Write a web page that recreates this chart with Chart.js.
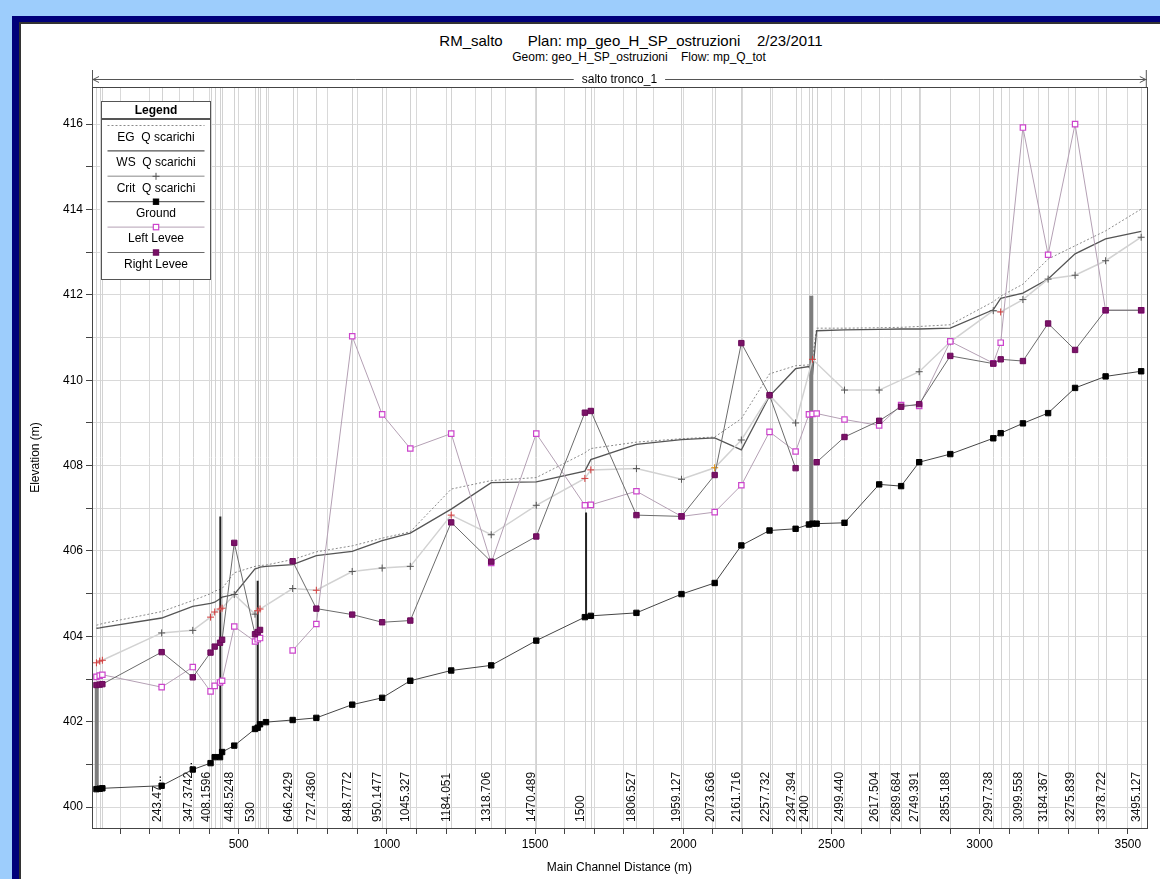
<!DOCTYPE html>
<html>
<head>
<meta charset="utf-8">
<script src="https://cdn.jsdelivr.net/npm/chart.js@4.4.1/dist/chart.umd.min.js"></script>
<style>
  body { margin:0; width:1160px; height:879px; background:#9dcdfc; position:relative; overflow:hidden;
         font-family:"Liberation Sans", Arial, sans-serif; }
  #navy { position:absolute; left:12px; top:16px; width:1148px; height:863px; background:#00007a; }
  #sheet { position:absolute; left:19px; top:22px; width:1141px; height:855px; background:#fff;
           border-left:2px solid #333; border-top:2px solid #333; border-bottom:1px solid #999; }
  #title { position:absolute; left:0; top:32px; width:1262px; text-align:center; font-size:15px;
           line-height:17px; white-space:pre; color:#000; }
  #subtitle { position:absolute; left:0; top:50px; width:1278px; text-align:center; font-size:12px;
              line-height:14px; white-space:pre; color:#000; }
  #chart { position:absolute; left:22px; top:24px; }
</style>
</head>
<body>
<div id="navy"></div>
<div id="sheet"></div>
<div id="title">RM_salto      Plan: mp_geo_H_SP_ostruzioni    2/23/2011</div>
<div id="subtitle">Geom: geo_H_SP_ostruzioni    Flow: mp_Q_tot</div>
<canvas id="chart" width="1130" height="851"></canvas>
<script>
// main channel distance of each cross section (m)
const distances = [20, 31, 40, 240, 345, 405, 419, 437, 444, 485, 555, 564, 572, 592, 682, 762, 883, 984, 1079, 1217,
  1352, 1504, 1668, 1688, 1842, 1994, 2106, 2196, 2291, 2379, 2424, 2436, 2450, 2544, 2661, 2735, 2796, 2901, 3046, 3071,
  3146, 3231, 3322, 3425, 3545];

// river station labels ('' = not labelled)
const stationNames = ['', '', '', '243.47...', '347.3742...', '408.1596', '', '', '', '448.5248', '530', '', '', '',
  '646.2429', '727.4360', '848.7772', '950.1477', '1045.327', '1184.051', '1318.706', '1470.489', '1500', '',
  '1806.527', '1959.127', '2073.636', '2161.716', '2257.732', '2347.394', '2400', '', '', '2499.440', '2617.504',
  '2689.684', '2749.391', '2855.188', '2997.738', '', '3099.558', '3184.367', '3275.839', '3378.722', '3495.127'];

const egElev = [404.26, 404.28, 404.3, 404.58, 404.84, 405.0, 405.06, 405.1, 405.12, 405.49, 405.64, 405.65, 405.66,
  405.67, 405.8, 405.98, 406.12, 406.3, 406.45, 407.45, 407.65, 407.72, 408.3, 408.4, 408.55, 408.63, 408.67, 409.1,
  410.15, 410.34, 410.36, 410.5, 411.22, 411.22, 411.23, 411.24, 411.26, 411.3, 411.84, 411.97, 412.25, 412.84,
  413.15, 413.5, 414.01];

const wsElev = [404.19, 404.2, 404.21, 404.43, 404.7, 404.77, 404.8, 404.88, 404.92, 404.98, 405.58, 405.6, 405.62,
  405.64, 405.68, 405.89, 405.99, 406.24, 406.42, 406.98, 407.6, 407.62, 407.87, 408.14, 408.5, 408.61, 408.65, 408.37,
  409.63, 410.27, 410.32, 410.14, 411.16, 411.18, 411.19, 411.2, 411.2, 411.22, 411.65, 411.92, 412.04, 412.37,
  412.96, 413.31, 413.49];

const critElev = [403.38, 403.42, 403.44, 404.08, 404.14, 404.45, 404.57, 404.64, 404.66, 404.98, 404.52, 404.6,
  404.64, null, 405.12, 405.08, 405.52, 405.6, 405.64, 406.84, 406.38, 407.07, 407.7, 407.9, 407.93, 407.68, 407.95,
  408.6, 409.65, 409.0, null, 410.49, null, 409.77, 409.77, null, 410.2, 410.9, 411.63, 411.6, 411.89, 412.37, 412.46,
  412.8, 413.35];

const groundElev = [400.42, 400.43, 400.44, 400.5, 400.88, 401.03, 401.17, 401.17, 401.29, 401.44, 401.83, 401.86,
  401.94, 401.99, 402.04, 402.09, 402.4, 402.56, 402.96, 403.2, 403.32, 403.9, 404.45, 404.48, 404.55, 404.99, 405.25,
  406.13, 406.48, 406.52, 406.62, 406.64, 406.64, 406.66, 407.56, 407.52, 408.08, 408.27, 408.64, 408.76, 408.99,
  409.23, 409.82, 410.09, 410.21];

const leftLevee = [403.05, 403.08, 403.1, 402.81, 403.28, 402.71, 402.84, 402.92, 402.96, 404.23, 403.88, 403.93,
  403.96, null, 403.67, 404.29, 411.03, 409.2, 408.4, 408.75, 405.72, 408.75, 407.07, 407.08, 407.4, 406.81, 406.91,
  407.54, 408.79, 408.33, 409.2, 409.21, 409.22, 409.08, 408.94, 409.42, 409.4, 410.91, 410.4, 410.88, 415.92, 412.94,
  416.0, 411.64, 411.64];

const rightLevee = [402.86, 402.87, 402.88, 403.63, 403.04, 403.62, 403.76, 403.85, 403.92, 406.19, 404.05, 404.1,
  404.15, null, 405.76, 404.65, 404.51, 404.33, 404.37, 406.67, 405.75, 406.34, 409.24, 409.28, 406.84, 406.81, 407.78,
  410.87, 409.65, 407.94, null, null, 408.08, 408.67, 409.05, 409.38, 409.44, 410.57, 410.39, 410.49, 410.45, 411.33,
  410.71, 411.64, 411.64];

// inline structures
const structStation = [21, 438, 564, 1672, 2432];
const structTop = [402.88, 406.81, 405.3, 406.9, 411.98];
const structBottom = [400.42, 401.25, 401.86, 404.46, 406.63];

// axis ticks
const xTickStep = 100, xTickFirst = 100, xTickLast = 3500, xLabelEvery = 500;
const yTickFirst = 400, yTickLast = 416, yLabelEvery = 2;

const family = '"Liberation Sans", Arial, sans-serif';
const wideStructures = [0, 4];
const critRed = [0, 1, 2, 5, 6, 7, 8, 11, 12, 15, 19, 22, 23, 31, 39];
const critOrange = [26];

const pts = arr => distances.map((x, i) => ({ x: x, y: arr[i] }));

const ground = { label: 'Ground', data: pts(groundElev), borderColor: '#444', borderWidth: 1,
  pointStyle: 'rect', pointRadius: 3.8, pointBackgroundColor: '#000', pointBorderColor: '#000', pointBorderWidth: 1 };
const rLev = { label: 'Right Levee', data: pts(rightLevee), borderColor: '#6b6b6b', borderWidth: 1,
  pointStyle: 'rect', pointRadius: 3.8, pointBackgroundColor: '#7a1267', pointBorderColor: '#6a0a5a', pointBorderWidth: 1 };
const lLev = { label: 'Left Levee', data: pts(leftLevee), borderColor: '#b4a0b4', borderWidth: 1,
  pointStyle: 'rect', pointRadius: 3.8, pointBackgroundColor: '#fff', pointBorderColor: '#cc44cc', pointBorderWidth: 1.2 };
const crit = { label: 'Crit  Q scarichi', data: pts(critElev), spanGaps: true, borderColor: '#d2d2d2', borderWidth: 1.5,
  pointStyle: 'cross', pointRadius: 3.5, pointBorderWidth: 1,
  pointBorderColor: c => critRed.includes(c.dataIndex) ? '#d23c3c' : (critOrange.includes(c.dataIndex) ? '#e08a00' : '#555') };
const ws = { label: 'WS  Q scarichi', data: pts(wsElev), borderColor: '#555', borderWidth: 1.3, pointRadius: 0 };
const eg = { label: 'EG  Q scarichi', data: pts(egElev), borderColor: '#8a8a8a', borderWidth: 1, borderDash: [2, 2], pointRadius: 0 };

const structSets = structStation.map((s, i) => ({
  label: 'structure', data: [{ x: s, y: structBottom[i] }, { x: s, y: structTop[i] }],
  borderColor: wideStructures.includes(i) ? '#7d7d7d' : '#222',
  borderWidth: wideStructures.includes(i) ? 4 : 2, pointRadius: 0
}));

const legendItems = [eg, ws, crit, ground, lLev, rLev];

function drawMarker(ctx, ds, x, y) {
  if (!ds.pointRadius) return;
  const r = ds.pointRadius;
  ctx.save();
  ctx.lineWidth = ds.pointBorderWidth || 1;
  if (ds.pointStyle === 'rect') {
    const s = Math.SQRT1_2 * r;
    ctx.fillStyle = ds.pointBackgroundColor;
    ctx.strokeStyle = ds.pointBorderColor;
    ctx.fillRect(x - s, y - s, 2 * s, 2 * s);
    ctx.strokeRect(x - s, y - s, 2 * s, 2 * s);
  } else {
    ctx.strokeStyle = '#555';
    ctx.beginPath();
    ctx.moveTo(x - r, y); ctx.lineTo(x + r, y);
    ctx.moveTo(x, y - r); ctx.lineTo(x, y + r);
    ctx.stroke();
  }
  ctx.restore();
}

const decor = {
  id: 'decor',
  beforeDatasetsDraw(chart) {
    const ctx = chart.ctx, ca = chart.chartArea, xs = chart.scales.x;
    ctx.save();
    ctx.strokeStyle = '#d2d2d2';
    ctx.lineWidth = 1;
    distances.forEach(d => {
      const px = Math.round(xs.getPixelForValue(d)) + 0.5;
      ctx.beginPath(); ctx.moveTo(px, ca.top); ctx.lineTo(px, ca.bottom); ctx.stroke();
    });
    ctx.fillStyle = '#111';
    ctx.font = '12px ' + family;
    ctx.textAlign = 'left';
    ctx.textBaseline = 'alphabetic';
    distances.forEach((d, i) => {
      if (!stationNames[i]) return;
      const px = xs.getPixelForValue(d);
      ctx.save();
      ctx.translate(px - 1, ca.bottom - 6);
      ctx.rotate(-Math.PI / 2);
      ctx.fillText(stationNames[i], 0, 0);
      ctx.restore();
    });
    ctx.restore();
  },
  afterDraw(chart) {
    const ctx = chart.ctx, ca = chart.chartArea;
    ctx.save();
    // plot frame
    ctx.strokeStyle = '#444';
    ctx.lineWidth = 1;
    ctx.strokeRect(Math.round(ca.left) + 0.5, Math.round(ca.top) + 0.5,
      Math.round(ca.right - ca.left), Math.round(ca.bottom - ca.top));

    // reach arrow
    const ya = Math.round(ca.top - 8) + 0.5;
    ctx.strokeStyle = '#555';
    ctx.beginPath();
    ctx.moveTo(ca.left, ya); ctx.lineTo(ca.right, ya);
    ctx.moveTo(ca.left + 0.5, ca.top - 17); ctx.lineTo(ca.left + 0.5, ca.top);
    ctx.moveTo(ca.right - 0.5, ca.top - 17); ctx.lineTo(ca.right - 0.5, ca.top);
    ctx.moveTo(ca.left + 7, ya - 3); ctx.lineTo(ca.left + 1, ya); ctx.lineTo(ca.left + 7, ya + 3);
    ctx.moveTo(ca.right - 7, ya - 3); ctx.lineTo(ca.right - 1, ya); ctx.lineTo(ca.right - 7, ya + 3);
    ctx.stroke();
    ctx.font = '12px ' + family;
    const label = 'salto tronco_1';
    const cx = (ca.left + ca.right) / 2;
    const tw = ctx.measureText(label).width;
    ctx.fillStyle = '#fff';
    ctx.fillRect(cx - tw / 2 - 8, ya - 7, tw + 16, 14);
    ctx.fillStyle = '#000';
    ctx.textAlign = 'center';
    ctx.textBaseline = 'middle';
    ctx.fillText(label, cx, ya);

    // legend
    const lx = Math.round(ca.left + 9) + 0.5, ly = Math.round(ca.top + 14) + 0.5, lw = 109, lh = 178;
    ctx.fillStyle = '#fff';
    ctx.fillRect(lx, ly, lw, lh);
    ctx.strokeStyle = '#555';
    ctx.strokeRect(lx, ly, lw, 17);
    ctx.strokeRect(lx, ly + 18, lw, lh - 18);
    ctx.fillStyle = '#000';
    ctx.font = 'bold 12px ' + family;
    ctx.fillText('Legend', lx + lw / 2, ly + 9);
    ctx.font = '12px ' + family;
    legendItems.forEach((ds, i) => {
      const yl = ly + 24 + i * 25.4;
      ctx.save();
      ctx.strokeStyle = ds === crit ? '#b0b0b0' : ds.borderColor;
      ctx.lineWidth = ds.borderWidth;
      ctx.setLineDash(ds.borderDash || []);
      ctx.beginPath(); ctx.moveTo(lx + 6, yl); ctx.lineTo(lx + lw - 6, yl); ctx.stroke();
      ctx.restore();
      drawMarker(ctx, ds, lx + lw / 2, yl);
      ctx.fillStyle = '#000';
      ctx.fillText(ds.label, lx + lw / 2, yl + 12);
    });
    ctx.restore();
  }
};

function tickList(first, last, step) {
  const out = [];
  for (let v = first; v <= last; v += step) out.push({ value: v });
  return out;
}

new Chart(document.getElementById('chart'), {
  type: 'line',
  data: { datasets: [ground, rLev, lLev, crit, ...structSets, ws, eg] },
  options: {
    responsive: false,
    animation: false,
    devicePixelRatio: 1,
    layout: { padding: { left: 0, top: 63, right: 4, bottom: 0 } },
    elements: { line: { tension: 0 } },
    plugins: { legend: { display: false }, tooltip: { enabled: false } },
    scales: {
      x: {
        type: 'linear', min: 5, max: 3564,
        afterBuildTicks: s => { s.ticks = tickList(xTickFirst, xTickLast, xTickStep); },
        afterFit: s => { s.height = 47; },
        ticks: { autoSkip: false, maxRotation: 0, padding: 3, color: '#000',
                 font: { size: 12, family: family },
                 callback: v => v % xLabelEvery === 0 ? String(v) : '' },
        grid: { color: '#d9d9d9', tickColor: '#444', tickLength: 6 },
        border: { color: '#444' },
        title: { display: true, text: 'Main Channel Distance (m)', color: '#000',
                 font: { size: 12, family: family, lineHeight: 1 }, padding: { top: 0, bottom: 1 } }
      },
      y: {
        type: 'linear', min: 399.51, max: 416.87,
        afterBuildTicks: s => { s.ticks = tickList(yTickFirst, yTickLast, 1); },
        afterFit: s => { s.width = 70; },
        ticks: { autoSkip: false, padding: 3, color: '#000',
                 font: { size: 12, family: family },
                 callback: v => v % yLabelEvery === 0 ? String(v) : '' },
        grid: { color: '#d9d9d9', tickColor: '#444', tickLength: 6 },
        border: { color: '#444' },
        title: { display: true, text: 'Elevation (m)', color: '#000',
                 font: { size: 12, family: family }, padding: { top: 6, bottom: 0 } }
      }
    }
  },
  plugins: [decor]
});
</script>
</body>
</html>
